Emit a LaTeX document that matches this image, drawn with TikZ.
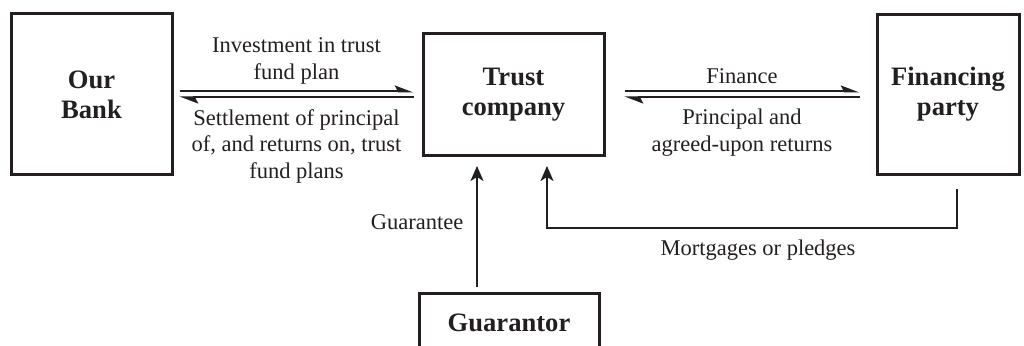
\documentclass[tikz,border=0pt]{standalone}
\usepackage{fontspec}
\setmainfont{Liberation Serif}
\usepackage{xcolor}
\usetikzlibrary{arrows.meta, positioning}
\definecolor{ink}{HTML}{231F20}

\begin{document}
\begin{tikzpicture}[x=0.5pt, y=-0.5pt, >={Stealth[length=7.5pt,width=6.5pt,inset=2pt]}]
    \tikzstyle{party} = [rectangle, draw=ink, line width=1.5pt, text=ink, font=\fontsize{13.3}{15}\selectfont\bfseries, align=center, inner sep=0pt]
    \tikzstyle{lbl} = [text=ink, font=\fontsize{11.25}{13.25}\selectfont, align=center]
    \tikzstyle{arrow} = [draw=ink, line width=1pt, ->]
    \tikzstyle{harp} = [draw=ink, line width=1pt, -{Stealth[left,length=8pt,width=6pt,inset=1.5pt]}]

    \clip (0,0) rectangle (1024,346);

    \node (bank) [party, minimum width=80.5pt, minimum height=80.5pt] at (91.5,94.5) {Our\\Bank};
    \node (trust) [party, minimum width=90.5pt, minimum height=61pt] at (513.5,94.5) {Trust\\company};
    \node (fin) [party, minimum width=71pt, minimum height=80pt] at (948,94.5) {Financing\\party};
    \node (guar) [party, minimum width=90pt, minimum height=29pt] at (509,323) {Guarantor};

    % our bank <-> trust company
    \draw [harp] ([xshift=3pt,yshift=1.5pt]bank.east) -- node[above, lbl] {Investment in trust\\fund plan} ([xshift=-4pt,yshift=1.5pt]trust.west);
    \draw [harp] ([xshift=-4pt,yshift=-1.5pt]trust.west) -- node[below=2pt, lbl] {Settlement of principal\\of, and returns on, trust\\fund plans} ([xshift=3pt,yshift=-1.5pt]bank.east);

    % trust company <-> financing party
    \draw [harp] ([xshift=9.5pt,yshift=1.5pt]trust.east) -- node[above, lbl] {Finance} ([xshift=-8pt,yshift=1.5pt]fin.west);
    \draw [harp] ([xshift=-8pt,yshift=-1.5pt]fin.west) -- node[below=2pt, lbl] {Principal and\\agreed-upon returns} ([xshift=9.5pt,yshift=-1.5pt]trust.east);

    \coordinate (gtop) at ([xshift=-16pt,yshift=2.5pt]guar.north);
    \draw [arrow, shorten >=4.5pt] (gtop) -- node[left=3pt, lbl] {Guarantee} (gtop |- trust.south);

    \draw [arrow] ([xshift=4.5pt,yshift=-6.5pt]fin.south) -- ++(0,39) -| node[pos=0.25, below=2pt, lbl, xshift=3pt] {Mortgages or pledges} ([xshift=16.75pt,yshift=-4.5pt]trust.south);
\end{tikzpicture}
\end{document}
